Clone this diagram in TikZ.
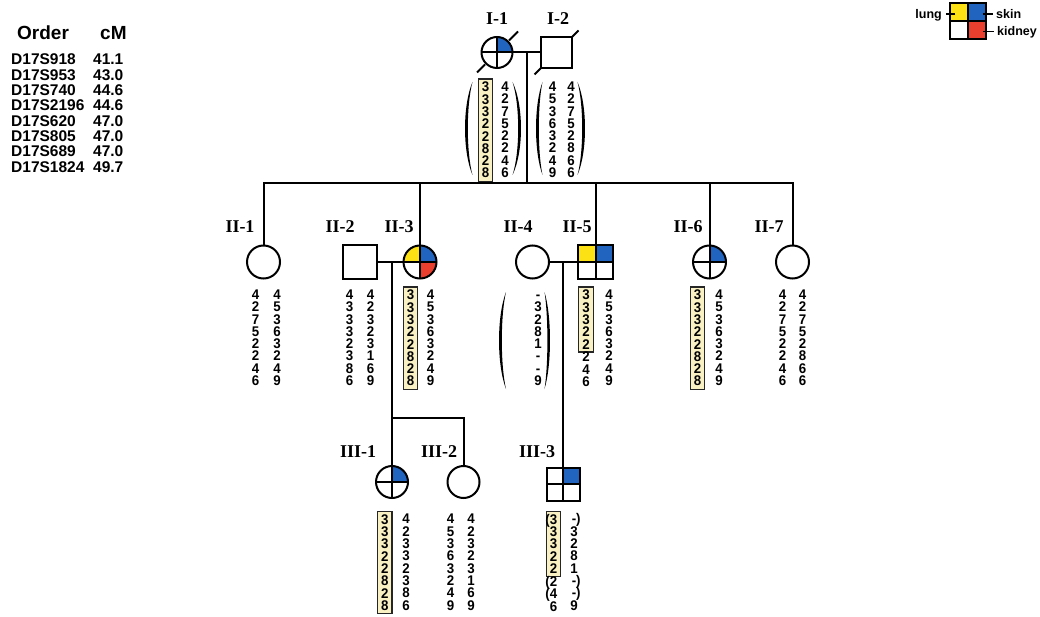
\documentclass[tikz,border=0pt]{standalone}
\usepackage{fontspec}
\setmainfont{Liberation Sans}
\newfontfamily\serifface{Liberation Serif}
\newfontfamily\hapface{Liberation Sans}[FakeStretch=0.95]
\usetikzlibrary{calc}

\definecolor{lungY}{RGB}{252,226,20}
\definecolor{skinB}{RGB}{32,100,192}
\definecolor{kidR}{RGB}{234,62,46}
\definecolor{hlY}{RGB}{249,241,196}

\newcommand\genfont{\serifface\bfseries\fontsize{18}{18}\selectfont}
\newcommand\hapfont{\hapface\bfseries\fontsize{14}{12.3}\selectfont\lineskiplimit=-20pt\lineskip=0pt}
\newcommand\tabfont{\bfseries\fontsize{15.5}{15.5}\selectfont}
\newcommand\hdfont{\bfseries\fontsize{19}{19}\selectfont}
\newcommand\legfont{\bfseries\fontsize{12.5}{12.5}\selectfont}

% one haplotype column: style, name, x, top y, rows
\newcommand\hap[5]{\node[hcol,#1] (#2) at (#3,#4) {\vphantom{0}#5};}
% a tall thin bracket drawn as a crescent: x of ends, top, bottom, bulge, thickness
\newcommand\bowpath[5]{%
  \fill (#1,#2) .. controls ({#1+1.33*(#4)},{0.75*(#2)+0.25*(#3)}) and ({#1+1.33*(#4)},{0.25*(#2)+0.75*(#3)}) .. (#1,#3)
    .. controls ({#1+1.33*(#4-(#5))},{0.25*(#2)+0.75*(#3)}) and ({#1+1.33*(#4-(#5))},{0.75*(#2)+0.25*(#3)}) .. (#1,#2) -- cycle;}
\newcommand\rp{\rlap{\smash{)}}}
\newcommand\lp{\llap{\smash{(}}}

\begin{document}
\begin{tikzpicture}[x=1pt,y=-1pt,
  pedline/.style={line width=2pt, line cap=rect},
  symb/.style={draw, line width=2pt, inner sep=0pt, fill=white},
  femsym/.style={symb, circle, minimum size=33pt},
  malesym/.style={symb, rectangle, minimum size=34.5pt},
  quads/.style n args={4}{path picture={
      \fill[#1] (path picture bounding box.center) rectangle (path picture bounding box.north west);
      \fill[#2] (path picture bounding box.center) rectangle (path picture bounding box.north east);
      \fill[#3] (path picture bounding box.center) rectangle (path picture bounding box.south east);
      \fill[#4] (path picture bounding box.center) rectangle (path picture bounding box.south west);
      \draw[line width=2pt] (path picture bounding box.north) -- (path picture bounding box.south)
                            (path picture bounding box.west) -- (path picture bounding box.east);}},
  genlabel/.style={font=\genfont, inner sep=0pt},
  hcol/.style={anchor=north, align=center, font=\hapfont, inner xsep=3.5pt, inner ysep=3pt},
  hcont/.style={inner ysep=0pt},
  hbox/.style={draw=black!85, line width=1.2pt, fill=hlY},
  tabtext/.style={font=\tabfont, inner sep=0pt, anchor=base west},
  legtext/.style={font=\legfont, inner sep=0pt},
  slashmark/.style={line width=1.8pt}
]
\useasboundingbox (0,0) rectangle (1040,617);

% ---------- marker table ----------
\node[tabtext, font=\hdfont] (ordhd) at (17,39.5) {Order};
\node[tabtext, font=\hdfont] (cmhd) at (100,39.5) {cM};
\foreach \m/\v [count=\i from 0] in {D17S918/41.1, D17S953/43.0, D17S740/44.6, D17S2196/44.6,
    D17S620/47.0, D17S805/47.0, D17S689/47.0, D17S1824/49.7} {
  \node[tabtext] (mk\i) at (11,{65+15.3*\i}) {\m};
  \node[tabtext] (cm\i) at (93,{65+15.3*\i}) {\v};
}

% ---------- key ----------
\node[symb, rectangle, minimum size=35.5pt, quads={lungY}{skinB}{kidR}{white}] (key) at (968,21) {};
\node[legtext, anchor=base east] (lung) at (942,18.5) {lung};
\node[legtext, anchor=base west] (skin) at (996,18.5) {skin};
\node[legtext, anchor=base west] (kidney) at (997,36) {kidney};
\draw[line width=1.6pt] ($(key.west)+(6,-7)$) -- ($(key.west)+(-3,-7)$);
\draw[line width=1.6pt] ($(key.east)+(-4,-7)$) -- ($(key.east)+(6,-7)$);
\draw[line width=1.6pt] ($(key.east)+(-4,10.5)$) -- ($(key.east)+(7,10.5)$);

% ---------- generation I ----------
\node[femsym, minimum size=31pt, quads={white}{skinB}{white}{white}] (I1) at (497,52.5) {};
\node[malesym, minimum size=31pt] (I2) at (556.5,52.5) {};
\node[genlabel] (lI1) at (497,18.5) {I-1};
\node[genlabel] (lI2) at (558,18.5) {I-2};
\draw[slashmark] ($(I1.center)+(-20,20)$) -- ($(I1.center)+(-12,12)$);
\draw[slashmark] ($(I1.center)+(12,-12)$) -- ($(I1.center)+(21,-21)$);
\draw[slashmark] ($(I2.center)+(-22,22)$) -- ($(I2.center)+(-15.5,15.5)$);
\draw[slashmark] ($(I2.center)+(15.5,-15.5)$) -- ($(I2.center)+(22,-22)$);

% ---------- generation II ----------
\node[femsym] (II1) at (263.5,262) {};
\node[malesym] (II2) at (360,262) {};
\node[femsym, quads={lungY}{skinB}{kidR}{white}] (II3) at (420,262) {};
\node[femsym] (II4) at (532.5,262) {};
\node[malesym, quads={lungY}{skinB}{white}{white}] (II5) at (595.5,262) {};
\node[femsym, quads={white}{skinB}{white}{white}] (II6) at (709.5,262) {};
\node[femsym] (II7) at (792.5,262) {};
\node[genlabel] (lII1) at (240,226.5) {II-1};
\node[genlabel] (lII2) at (340,226.5) {II-2};
\node[genlabel] (lII3) at (399,226.5) {II-3};
\node[genlabel] (lII4) at (518,226.5) {II-4};
\node[genlabel] (lII5) at (577,226.5) {II-5};
\node[genlabel] (lII6) at (688,226.5) {II-6};
\node[genlabel] (lII7) at (769,226.5) {II-7};

% ---------- generation III ----------
\node[femsym, minimum size=32pt, quads={white}{skinB}{white}{white}] (III1) at (392,482) {};
\node[femsym, minimum size=32pt] (III2) at (463.5,482) {};
\node[malesym, minimum size=33pt, quads={white}{skinB}{white}{white}] (III3) at (563,484) {};
\node[genlabel] (lIII1) at (358,452) {III-1};
\node[genlabel] (lIII2) at (439,452) {III-2};
\node[genlabel] (lIII3) at (537,452) {III-3};

% ---------- lines of descent ----------
\coordinate (mI) at (527,52.5);
\coordinate (sibII) at (527,183);
\coordinate (m23) at (392,262);
\coordinate (sibIII) at (392,418);
\coordinate (m45) at (563,262);
\draw[pedline] (I1.east) -- (I2.west);
\draw[pedline] (mI) -- (sibII);
\draw[pedline] (II1.north) -- (II1.north |- sibII) -- (II7.north |- sibII) -- (II7.north);
\foreach \n in {II3,II5,II6} \draw[pedline] (\n.north |- sibII) -- (\n.north);
\draw[pedline] (II2.east) -- (II3.west);
\draw[pedline] (II4.east) -- (II5.west);
\draw[pedline] (m23) -- (III1.north);
\draw[pedline] (sibIII) -- (III2.north |- sibIII) -- (III2.north);
\draw[pedline] (m45) -- (III3.north);

% ---------- haplotypes ----------
\hap{hbox}{hI1a}{485.5}{78.5}{3\\3\\3\\2\\2\\8\\2\\8}
\hap{}{hI1b}{505}{78.5}{4\\2\\7\\5\\2\\2\\4\\6}
\hap{}{hI2a}{552.5}{78.5}{4\\5\\3\\6\\3\\2\\4\\9}
\hap{}{hI2b}{571}{78.5}{4\\2\\7\\5\\2\\8\\6\\6}
\bowpath{472.5}{82}{175}{-7.5}{-2.8}
\bowpath{512.5}{82}{175}{8.5}{2.8}
\bowpath{542.5}{82}{175}{-6.5}{-2.8}
\bowpath{577.5}{82}{175}{7.5}{2.8}

\hap{}{hII1a}{255.5}{286.5}{4\\2\\7\\5\\2\\2\\4\\6}
\hap{}{hII1b}{277}{286.5}{4\\5\\3\\6\\3\\2\\4\\9}
\hap{}{hII2a}{349.5}{286.5}{4\\3\\3\\3\\2\\3\\8\\6}
\hap{}{hII2b}{370.5}{286.5}{4\\2\\3\\2\\3\\1\\6\\9}
\hap{hbox}{hII3a}{410.5}{286.5}{3\\3\\3\\2\\2\\8\\2\\8}
\hap{}{hII3b}{430.5}{286.5}{4\\5\\3\\6\\3\\2\\4\\9}
\hap{}{hII4}{538}{286.5}{-\\3\\2\\8\\1\\-\\-\\9}
\bowpath{506}{292}{389}{-7}{-2.8}
\bowpath{544.5}{292}{389}{5.5}{2.6}
\hap{hbox}{hII5a}{586}{286.5}{3\\3\\3\\2\\2}
\hap{hcont}{hII5c}{586}{352}{2\\4\\6}
\hap{}{hII5b}{609}{286.5}{4\\5\\3\\6\\3\\2\\4\\9}
\hap{hbox}{hII6a}{697.5}{286.5}{3\\3\\3\\2\\2\\8\\2\\8}
\hap{}{hII6b}{719}{286.5}{4\\5\\3\\6\\3\\2\\4\\9}
\hap{}{hII7a}{782.5}{286.5}{4\\2\\7\\5\\2\\2\\4\\6}
\hap{}{hII7b}{802.5}{286.5}{4\\2\\7\\5\\2\\8\\6\\6}

\hap{hbox}{hIII1a}{384.7}{511}{3\\3\\3\\2\\2\\8\\2\\8}
\hap{}{hIII1b}{406}{511}{4\\2\\3\\3\\2\\3\\8\\6}
\hap{}{hIII2a}{450.5}{511}{4\\5\\3\\6\\3\\2\\4\\9}
\hap{}{hIII2b}{471}{511}{4\\2\\3\\2\\3\\1\\6\\9}
\hap{hbox}{hIII3a}{553.5}{511}{\lp3\\3\\3\\2\\2}
\hap{hcont}{hIII3c}{553.5}{576.5}{\lp2\\\lp4\\6}
\hap{}{hIII3b}{574}{511}{-\rp\\3\\2\\8\\1\\-\rp\\-\rp\\9}
\end{tikzpicture}
\end{document}
